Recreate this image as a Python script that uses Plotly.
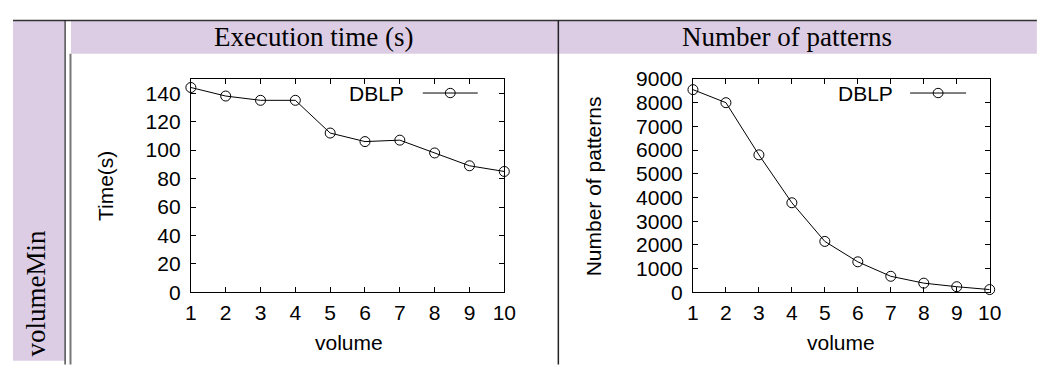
import plotly.graph_objects as go

# browser body keeps its default 8px margin: figure is sized so the page is 1049x376
OFF = 8
W, H = 1049 - 2 * OFF, 376 - 2 * OFF

# ---- data ----
volume = [1, 2, 3, 4, 5, 6, 7, 8, 9, 10]
time_s = [144, 138, 135, 135, 112, 106, 107, 98, 89, 85]
patterns = [8550, 8000, 5800, 3780, 2150, 1290, 680, 390, 240, 120]
series_name = "DBLP"
col_titles = ["Execution time (s)", "Number of patterns"]
row_title = "volumeMin"
x_title = "volume"
y_titles = ["Time(s)", "Number of patterns"]

PURPLE = "#DCCDE5"
SANS = "Liberation Sans, Arial, sans-serif"
SERIF = "Liberation Serif, Times New Roman, serif"
FS = 21


def px(x):
    """page pixel x -> paper"""
    return (x - OFF) / W


def py(y):
    """page pixel y -> paper"""
    return 1 - (y - OFF) / H


fig = go.Figure()

marker = dict(symbol="circle-open", size=10, color="black", line=dict(width=1, color="black"))
fig.add_trace(go.Scatter(x=volume, y=time_s, mode="lines+markers", name=series_name,
                         line=dict(color="black", width=1), marker=marker,
                         cliponaxis=False, xaxis="x", yaxis="y", showlegend=False))
fig.add_trace(go.Scatter(x=volume, y=patterns, mode="lines+markers", name=series_name,
                         line=dict(color="black", width=1), marker=marker,
                         cliponaxis=False, xaxis="x2", yaxis="y2", showlegend=False))

ybot, ytop = 299, 71
common_axis = dict(showline=True, linecolor="black", linewidth=1, mirror="ticks",
                   ticks="inside", ticklen=5, tickcolor="black", tickwidth=1,
                   showgrid=False, zeroline=False,
                   tickfont=dict(family=SANS, size=FS, color="black"))

fig.update_layout(
    width=W, height=H, margin=dict(l=0, r=0, t=0, b=0),
    paper_bgcolor="white", plot_bgcolor="white",
    xaxis=dict(domain=[px(188), px(507)], range=[1, 10], dtick=1, anchor="y",
               ticklabelstandoff=1, **common_axis),
    yaxis=dict(domain=[py(ybot), py(ytop)], range=[0, 150], dtick=20, anchor="x",
               ticklabelstandoff=5, **common_axis),
    xaxis2=dict(domain=[px(699), px(1001)], range=[1, 10], dtick=1, anchor="y2",
                ticklabelstandoff=1, **common_axis),
    yaxis2=dict(domain=[py(ybot), py(ytop)], range=[0, 9000], dtick=1000, anchor="x2",
                ticklabelstandoff=5, **common_axis),
)

shapes = []
# table backgrounds
shapes.append(dict(type="rect", xref="paper", yref="paper", x0=px(7), x1=px(59.5), y0=py(372), y1=py(8),
                   fillcolor=PURPLE, line=dict(width=0), layer="below"))
shapes.append(dict(type="rect", xref="paper", yref="paper", x0=px(66), x1=px(1049), y0=py(44), y1=py(8),
                   fillcolor=PURPLE, line=dict(width=0), layer="below"))
# table rules
shapes.append(dict(type="line", xref="paper", yref="paper", x0=px(7), x1=px(1049), y0=py(8.5), y1=py(8.5),
                   line=dict(color="#333333", width=1.5)))
shapes.append(dict(type="line", xref="paper", yref="paper", x0=px(60), x1=px(60), y0=py(8), y1=py(376),
                   line=dict(color="#222222", width=1.2)))
shapes.append(dict(type="line", xref="paper", yref="paper", x0=px(65.5), x1=px(65.5), y0=py(44), y1=py(376),
                   line=dict(color="#777777", width=2)))
shapes.append(dict(type="line", xref="paper", yref="paper", x0=px(562), x1=px(562), y0=py(8), y1=py(376),
                   line=dict(color="#222222", width=1.5)))

annotations = []
# legend keys (gnuplot style: text left of sample)
for (tx, lx0, lx1) in [(407, 424, 480), (905, 920, 977)]:
    ly = 86
    annotations.append(dict(text=series_name, xref="paper", yref="paper", x=px(tx), y=py(ly),
                            xanchor="right", yanchor="middle", showarrow=False,
                            font=dict(family=SANS, size=FS, color="black")))
    shapes.append(dict(type="line", xref="paper", yref="paper", x0=px(lx0), x1=px(lx1), y0=py(ly), y1=py(ly),
                       line=dict(color="black", width=1)))
    cx = (lx0 + lx1) / 2
    shapes.append(dict(type="circle", xref="paper", yref="paper", x0=px(cx - 5), x1=px(cx + 5),
                       y0=py(ly + 5), y1=py(ly - 5), line=dict(color="black", width=1), fillcolor="rgba(0,0,0,0)"))

# column headers
annotations.append(dict(text=col_titles[0], xref="paper", yref="paper", x=px(313), y=py(26),
                        xanchor="center", yanchor="middle", showarrow=False,
                        font=dict(family=SERIF, size=27, color="black")))
annotations.append(dict(text=col_titles[1], xref="paper", yref="paper", x=px(795), y=py(26),
                        xanchor="center", yanchor="middle", showarrow=False,
                        font=dict(family=SERIF, size=27, color="black")))
# row header
annotations.append(dict(text=row_title, xref="paper", yref="paper", x=px(30), y=py(370),
                        xanchor="center", yanchor="bottom", textangle=-90, showarrow=False,
                        font=dict(family=SERIF, size=27, color="black")))
# axis titles
annotations.append(dict(text=y_titles[0], xref="paper", yref="paper", x=px(101), y=py(185),
                        xanchor="center", yanchor="middle", textangle=-90, showarrow=False,
                        font=dict(family=SANS, size=FS, color="black")))
annotations.append(dict(text=y_titles[1], xref="paper", yref="paper", x=px(598), y=py(186),
                        xanchor="center", yanchor="middle", textangle=-90, showarrow=False,
                        font=dict(family=SANS, size=FS, color="black")))
annotations.append(dict(text=x_title, xref="paper", yref="paper", x=px(349), y=py(353),
                        xanchor="center", yanchor="middle", showarrow=False,
                        font=dict(family=SANS, size=FS, color="black")))
annotations.append(dict(text=x_title, xref="paper", yref="paper", x=px(850), y=py(353),
                        xanchor="center", yanchor="middle", showarrow=False,
                        font=dict(family=SANS, size=FS, color="black")))

fig.update_layout(shapes=shapes, annotations=annotations)
fig.write_html("out.html", config={"displayModeBar": False})
